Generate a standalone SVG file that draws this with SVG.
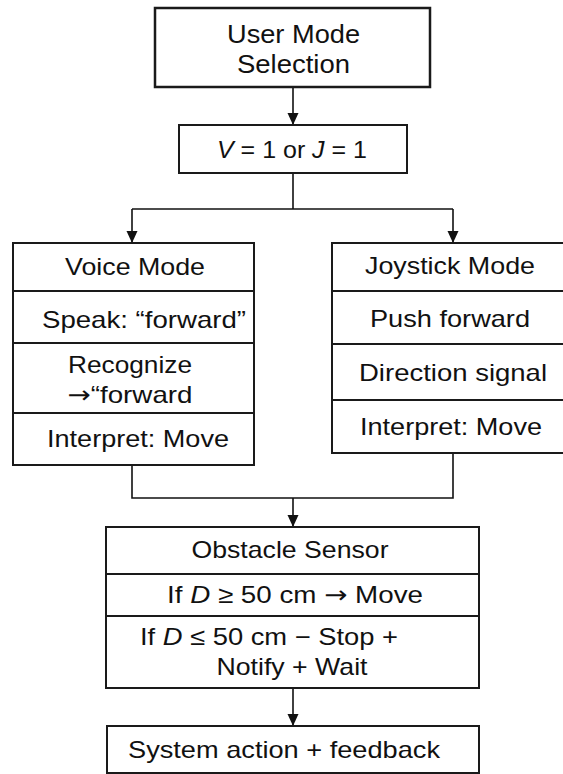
<svg xmlns="http://www.w3.org/2000/svg" width="563" height="774" viewBox="0 0 563 774">
  <defs>
    <marker id="arrow" viewBox="0 0 12 12" refX="12" refY="6" markerWidth="12" markerHeight="12" markerUnits="userSpaceOnUse" orient="auto">
      <path d="M0,0.5 L12,6 L0,11.5 z" fill="#111"/>
    </marker>
  </defs>
  <style>
    .box { fill: #fff; stroke: #1a1a1a; stroke-width: 2; }
    .div { stroke: #1a1a1a; stroke-width: 2; fill: none; }
    .con { stroke: #111; stroke-width: 1.6; fill: none; }
    text { font-family: "Liberation Sans", Arial, sans-serif; font-size: 24px; fill: #111; text-anchor: middle; }
    .t { font-size: 26px; }
    .i { font-style: italic; }
    .ar { font-family: "DejaVu Sans", sans-serif; }
  </style>
  <rect width="563" height="774" fill="#fff"/>

  <g id="connectors">
    <line class="con" x1="293" y1="87" x2="293" y2="125" marker-end="url(#arrow)"/>
    <polyline class="con" points="293,173 293,209"/>
    <polyline class="con" points="132,209 453,209"/>
    <line class="con" x1="132" y1="209" x2="132" y2="243" marker-end="url(#arrow)"/>
    <line class="con" x1="453" y1="209" x2="453" y2="243" marker-end="url(#arrow)"/>
    <polyline class="con" points="132,465 132,498 453,498 453,453"/>
    <line class="con" x1="293" y1="498" x2="293" y2="527" marker-end="url(#arrow)"/>
    <line class="con" x1="293" y1="688" x2="293" y2="726" marker-end="url(#arrow)"/>
  </g>

  <g id="user-mode">
    <rect class="box" x="155" y="8" width="275" height="79" style="stroke-width:2.5"/>
    <text class="t" x="293.5" y="43" textLength="133" lengthAdjust="spacingAndGlyphs">User Mode</text>
    <text class="t" x="293.5" y="73" textLength="113" lengthAdjust="spacingAndGlyphs">Selection</text>
  </g>

  <g id="condition">
    <rect class="box" x="179" y="125" width="228" height="48"/>
    <text x="292" y="158" textLength="150" lengthAdjust="spacingAndGlyphs"><tspan class="i">V</tspan> = 1 or <tspan class="i">J</tspan> = 1</text>
  </g>

  <g id="voice-mode">
    <rect class="box" x="13" y="243" width="241" height="222"/>
    <line class="div" x1="13" y1="291" x2="254" y2="291"/>
    <line class="div" x1="13" y1="343" x2="254" y2="343"/>
    <line class="div" x1="13" y1="413" x2="254" y2="413"/>
    <text x="135" y="275" textLength="140" lengthAdjust="spacingAndGlyphs">Voice Mode</text>
    <text x="144" y="328" textLength="204" lengthAdjust="spacingAndGlyphs">Speak: “forward”</text>
    <text x="130" y="373" textLength="124" lengthAdjust="spacingAndGlyphs">Recognize</text>
    <text x="130" y="403" textLength="125" lengthAdjust="spacingAndGlyphs"><tspan class="ar">→</tspan>“forward</text>
    <text x="138" y="447" textLength="182" lengthAdjust="spacingAndGlyphs">Interpret: Move</text>
  </g>

  <g id="joystick-mode">
    <rect class="box" x="332" y="243" width="242" height="210"/>
    <line class="div" x1="332" y1="291" x2="574" y2="291"/>
    <line class="div" x1="332" y1="344" x2="574" y2="344"/>
    <line class="div" x1="332" y1="400" x2="574" y2="400"/>
    <text x="450" y="274" textLength="170" lengthAdjust="spacingAndGlyphs">Joystick Mode</text>
    <text x="450" y="327" textLength="160" lengthAdjust="spacingAndGlyphs">Push forward</text>
    <text x="453" y="381" textLength="188" lengthAdjust="spacingAndGlyphs">Direction signal</text>
    <text x="451" y="435" textLength="182" lengthAdjust="spacingAndGlyphs">Interpret: Move</text>
  </g>

  <g id="obstacle-sensor">
    <rect class="box" x="106" y="527" width="373" height="161"/>
    <line class="div" x1="106" y1="574" x2="479" y2="574"/>
    <line class="div" x1="106" y1="616" x2="479" y2="616"/>
    <text x="290" y="558" textLength="197" lengthAdjust="spacingAndGlyphs">Obstacle Sensor</text>
    <text x="295" y="603" textLength="256" lengthAdjust="spacingAndGlyphs">If <tspan class="i">D</tspan> ≥ 50 cm <tspan class="ar">→</tspan> Move</text>
    <text x="269" y="645" textLength="258" lengthAdjust="spacingAndGlyphs">If <tspan class="i">D</tspan> ≤ 50 cm − Stop +</text>
    <text x="292" y="675" textLength="151" lengthAdjust="spacingAndGlyphs">Notify + Wait</text>
  </g>

  <g id="system-action">
    <rect class="box" x="107" y="726" width="372" height="47"/>
    <text x="284" y="758" textLength="312" lengthAdjust="spacingAndGlyphs">System action + feedback</text>
  </g>
</svg>
